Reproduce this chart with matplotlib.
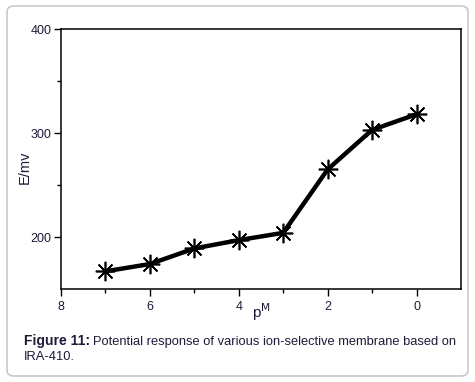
import matplotlib
matplotlib.use("Agg")
import matplotlib.pyplot as plt
from matplotlib.patches import FancyBboxPatch

pM = [7, 6, 5, 4, 3, 2, 1, 0]
E_mv = [167, 174, 189, 197, 204, 265, 303, 318]
x_ticks = [8, 6, 4, 2, 0]
y_ticks = [200, 300, 400]

txt = '#1c1c3a'
plt.rcParams['font.family'] = ['Liberation Sans', 'DejaVu Sans']

fig = plt.figure(figsize=(4.75, 3.82), dpi=100, facecolor='white')
frame = FancyBboxPatch((7/475, 6/382), 461/475, 370/382,
                       boxstyle="round,pad=0,rounding_size=0.015",
                       transform=fig.transFigure, facecolor='none',
                       edgecolor='#c8c8c8', linewidth=1.2, zorder=0)
fig.patches.append(frame)

ax = fig.add_axes([61/475, 1-289/382, 400/475, 260/382])
ax.plot(pM, E_mv, color='black', linewidth=3.2, marker=(8, 2, 0),
        markersize=14, markeredgewidth=1.2, markeredgecolor='black')
ax.set_xlim(8, -1)
ax.set_ylim(150, 400)
ax.set_xticks(x_ticks)
ax.set_xticks([7, 5, 3, 1], minor=True)
ax.set_yticks(y_ticks)
ax.set_yticks([250, 350], minor=True)
ax.tick_params(which='major', direction='out', length=5, width=1, labelsize=9, labelcolor=txt)
ax.tick_params(which='minor', direction='out', length=3, width=1)
ax.tick_params(axis='x', pad=4)
ax.tick_params(axis='y', pad=2)
for s in ax.spines.values():
    s.set_linewidth(1.1)

ax.set_ylabel('E/mv', fontsize=10.5, color=txt)
ax.yaxis.set_label_coords(-0.072, 0.47)
ax.set_xlabel(r'p$^{\mathrm{M}}$', fontsize=11, color=txt, labelpad=-9)

fig.text(24/475, 1-345/382, 'Figure 11:', fontsize=10, fontweight='bold', color=txt, va='baseline')
fig.text(93/475, 1-345/382, 'Potential response of various ion-selective membrane based on',
         fontsize=9.3, color=txt, va='baseline')
fig.text(24/475, 1-360/382, 'IRA-410.', fontsize=9.3, color=txt, va='baseline')

fig.savefig('out.png', dpi=100)
